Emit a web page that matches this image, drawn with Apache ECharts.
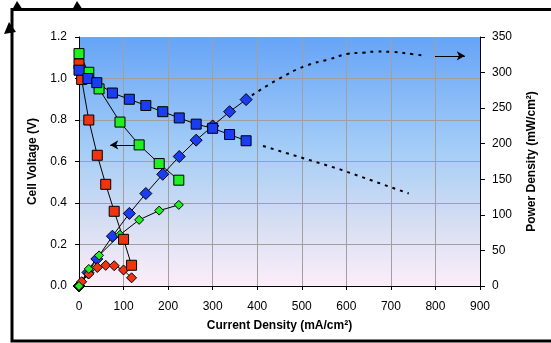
<!DOCTYPE html>
<html><head><meta charset="utf-8">
<script src="https://cdn.jsdelivr.net/npm/echarts@6/dist/echarts.min.js"></script>
<style>html,body{margin:0;padding:0;background:#fff}#c{width:551px;height:343px}</style>
</head><body><div id="c"></div>
<script>
// ---- data ----
var novI = [0, 20, 40, 75, 113, 150, 188, 225, 263, 300, 338, 375];
var novV = [1.04, 1.00, 0.98, 0.93, 0.90, 0.87, 0.84, 0.81, 0.78, 0.76, 0.73, 0.70];
var novP = [0, 19, 38, 70, 102, 130, 157, 182, 205, 225, 245, 262];
var augI = [0, 22, 45, 92, 135, 180, 224];
var augV = [1.12, 1.03, 0.95, 0.79, 0.68, 0.59, 0.51];
var augP = [0, 24, 43, 72, 93, 106, 114];
var aprI = [0, 6, 22, 41, 60, 79, 100, 118];
var aprV = [1.07, 0.995, 0.80, 0.63, 0.49, 0.36, 0.225, 0.10];
var aprP = [0, 6, 17, 26, 29, 28.5, 22.5, 11.5];
// extrapolated (dotted) Nov '02 curves
var extVI = [413, 586, 740];
var extVV = [0.675, 0.562, 0.446];
var extPI = [388, 451, 507, 563, 601, 638, 668, 705, 747, 773];
var extPP = [268, 292, 309, 319, 326, 328, 329.5, 329, 326, 324];
// curve labels
var labelTexts = ["Nov '02", "Aug '02", "Apr '02"];
var labelI = [390, 247, 143];
var labelV = [0.805, 0.425, 0.077];
// axis arrows
var arrowLeftI = [126, 70], arrowLeftV = 0.68;
var arrowRightI = [799, 866], arrowRightP = 323.5;
// axis ticks
var xTicks = {min: 0, max: 900, step: 100};
var vTicks = {min: 0, max: 1.2, step: 0.2};
var pTicks = {min: 0, max: 350, step: 50};

function pairs(a, b) { return a.map(function (v, i) { return [v, b[i]]; }); }

var FONT = 'Arial, "Liberation Sans", sans-serif';
var BLUE = '#1a3cf2', GREEN = '#1ff01f', RED = '#f2330f';

function lineSeries(name, data, yIdx, sym, size, color) {
  return {
    name: name, type: 'line', yAxisIndex: yIdx, data: data,
    symbol: sym, symbolSize: size, showSymbol: true, animation: false,
    lineStyle: {color: '#000', width: 1},
    itemStyle: {color: color, borderColor: '#000', borderWidth: 1}
  };
}

var chart = echarts.init(document.getElementById('c'), null, {renderer: 'canvas'});
var option = {
  animation: false,
  textStyle: {fontFamily: FONT},
  grid: {
    left: 79, right: 71, top: 37, bottom: 57, show: true, borderWidth: 0,
    backgroundColor: new echarts.graphic.LinearGradient(0, 0, 0, 1, [
      {offset: 0, color: '#66a4f7'},
      {offset: 0.45, color: '#a4cdf7'},
      {offset: 0.75, color: '#d6def2'},
      {offset: 1, color: '#fdeefa'}
    ])
  },
  xAxis: {
    type: 'value', min: xTicks.min, max: xTicks.max, interval: xTicks.step,
    name: 'Current Density (mA/cm²)', nameLocation: 'middle', nameGap: 34,
    nameTextStyle: {fontWeight: 'bold', fontSize: 12, color: '#000', fontFamily: FONT},
    axisLine: {show: true, onZero: false, lineStyle: {color: '#000', width: 1}},
    axisTick: {show: true, length: 4, lineStyle: {color: '#000'}},
    axisLabel: {fontSize: 12, color: '#000', margin: 15, fontFamily: FONT},
    splitLine: {show: true, lineStyle: {color: '#a0a0a0', width: 1}}
  },
  yAxis: [{
    type: 'value', min: vTicks.min, max: vTicks.max, interval: vTicks.step, position: 'left',
    name: 'Cell Voltage (V)', nameLocation: 'middle', nameGap: 40, nameRotate: 90,
    nameTextStyle: {fontWeight: 'bold', fontSize: 12, color: '#000', fontFamily: FONT},
    axisLine: {show: true, onZero: false, lineStyle: {color: '#000', width: 1}},
    axisTick: {show: true, length: 4, lineStyle: {color: '#000'}},
    axisLabel: {fontSize: 12, color: '#000', margin: 12, fontFamily: FONT,
      formatter: function (v) { return v.toFixed(1); }},
    splitLine: {show: true, lineStyle: {color: '#a0a0a0', width: 1}}
  }, {
    type: 'value', min: pTicks.min, max: pTicks.max, interval: pTicks.step, position: 'right',
    name: 'Power Density (mW/cm²)', nameLocation: 'middle', nameGap: 46, nameRotate: 90,
    nameTextStyle: {fontWeight: 'bold', fontSize: 12, color: '#000', fontFamily: FONT},
    axisLine: {show: true, onZero: false, lineStyle: {color: '#000', width: 1}},
    axisTick: {show: true, length: 5, lineStyle: {color: '#000'}},
    axisLabel: {fontSize: 12, color: '#000', margin: 12, fontFamily: FONT},
    splitLine: {show: false}
  }],
  series: [
    {type: 'line', yAxisIndex: 1, data: pairs(extPI, extPP), smooth: true, symbol: 'none',
      lineStyle: {color: '#000', width: 2, type: [3, 5]}, silent: true},
    {type: 'line', yAxisIndex: 0, data: pairs(extVI, extVV), symbol: 'none',
      lineStyle: {color: '#000', width: 2, type: [3, 5]}, silent: true},
    lineSeries('Nov P', pairs(novI, novP), 1, 'diamond', 12, BLUE),
    lineSeries('Apr P', pairs(aprI, aprP), 1, 'diamond', 10, RED),
    lineSeries('Aug P', pairs(augI, augP), 1, 'diamond', 9, GREEN),
    lineSeries('Aug V', pairs(augI, augV), 0, 'rect', 10, GREEN),
    lineSeries('Apr V', pairs(aprI, aprV), 0, 'rect', 10, RED),
    lineSeries('Nov V', pairs(novI, novV), 0, 'rect', 10, BLUE),
    {type: 'scatter', yAxisIndex: 0, symbolSize: 1, itemStyle: {opacity: 0},
      data: labelI.map(function (x, i) { return {value: [x, labelV[i]], name: labelTexts[i]}; }),
      label: {show: true, position: 'right', distance: 0, formatter: '{b}',
        fontSize: 13, color: '#111', fontFamily: FONT}, silent: true},
    {type: 'line', yAxisIndex: 0, data: [], symbol: 'none',
      markLine: {silent: true, symbol: ['none', 'arrow'], symbolSize: [7, 8], label: {show: false},
        lineStyle: {color: '#000', width: 1, type: 'solid'},
        data: [[{coord: [arrowLeftI[0], arrowLeftV]}, {coord: [arrowLeftI[1], arrowLeftV]}]]}},
    {type: 'line', yAxisIndex: 1, data: [], symbol: 'none',
      markLine: {silent: true, symbol: ['none', 'arrow'], symbolSize: [7, 8], label: {show: false},
        lineStyle: {color: '#000', width: 1, type: 'solid'},
        data: [[{coord: [arrowRightI[0], arrowRightP]}, {coord: [arrowRightI[1], arrowRightP]}]]}}
  ],
  graphic: [
    {type: 'polyline', shape: {points: [[551, 9.5], [12, 9.5], [12, 341], [551, 341]]},
      style: {stroke: '#000', lineWidth: 3, fill: null}, silent: true},
    {type: 'polygon', shape: {points: [[17, 1], [12, 10], [23, 10]]}, style: {fill: '#000'}, silent: true},
    {type: 'polygon', shape: {points: [[77, 1], [72, 10], [83, 10]]}, style: {fill: '#000'}, silent: true},
    {type: 'polygon', shape: {points: [[9, 22], [4, 34], [16, 32]]}, style: {fill: '#000'}, silent: true}
  ]
};
chart.setOption(option);
</script>
</body></html>
